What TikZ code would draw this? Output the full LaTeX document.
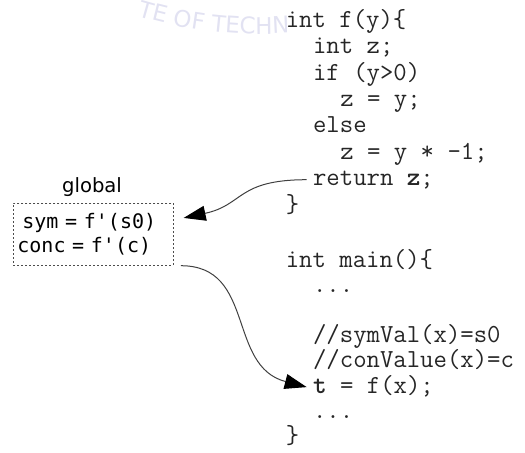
\documentclass[tikz,border=0pt]{standalone}
\usepackage{fontspec}
\usepackage{tikz}
\usetikzlibrary{arrows.meta}
\usetikzlibrary{decorations.text}
\newfontfamily\boxfont{DejaVu Sans Mono}
\newfontfamily\labelfont{DejaVu Sans}
\newcommand{\codefont}{\ttfamily\fontsize{13}{15}\selectfont}
\definecolor{wmark}{RGB}{226,226,242}

\begin{document}
\begin{tikzpicture}[x=0.5pt, y=-0.5pt,
		codeline/.style={anchor=west, font=\codefont, text=black!85, inner xsep=3pt, inner ysep=0pt, text height=9pt, text depth=3pt},
		globalbox/.style={draw=black!70, dash pattern=on 1pt off 1pt, line width=0.5pt, minimum width=80pt, minimum height=31pt, text width=76pt, inner xsep=2pt, align=left, font=\boxfont\fontsize{10}{12.2}\selectfont},
		flow/.style={draw=black!75, line width=0.5pt, -{Triangle[length=11pt, width=7.5pt, color=black]}}
	]
	\useasboundingbox (0,0) rectangle (525,452);

	\begin{scope}
		\clip (0,0) rectangle (286,60);
		\path[decorate, decoration={text along path, text color=wmark, text={|\labelfont\fontsize{11.5}{13}\selectfont|TE OF TECHNO}}] (138,16.1) .. controls (217.7,40) and (302.3,40) .. (382,16.1);
	\end{scope}

	\node[codeline] (fhead) at (279.4,21.3) {int f(y)\{};
	\node[codeline] (fdecl) at (306.7,47.7) {int z;};
	\node[codeline] (fif) at (306.7,74.1) {if (y>0)};
	\node[codeline] (fthen) at (334,100.5) {z = y;};
	\node[codeline] (felse) at (306.7,126.9) {else};
	\node[codeline] (fneg) at (334,153.3) {z = y * -1;};
	\node[codeline] (fret) at (306.7,179.7) {return \textbf{z};};
	\node[codeline] (fend) at (279.4,206.1) {\}};

	\node[codeline] (mhead) at (279.4,261.1) {int main()\{};
	\node[codeline] (mskip) at (306.7,286.3) {...};
	\node[codeline] (msym) at (306.7,336.7) {//symVal(x)=s0};
	\node[codeline] (mconc) at (306.7,361.9) {//conValue(x)=c};
	\node[codeline] (mcall) at (306.7,387.1) {\textbf{t} = f(x);};
	\node[codeline] (mrest) at (306.7,412.3) {...};
	\node[codeline] (mend) at (279.4,437.5) {\}};

	\node[font=\labelfont\fontsize{9.8}{12}\selectfont, inner sep=0pt] (globaltitle) at (92,187.5) {global};
	\node[globalbox] (globals) at (93.4,234.2) {\hspace*{2.5pt}sym = f\textquotesingle(s0)\\conc = f\textquotesingle(c)};

	\draw[flow, shorten >=5pt] (fret.west) .. controls +(-70,0) and +(70,-15) .. (globals.10);
	\draw[flow, shorten <=3.5pt] (globals.south east) .. controls +(82,0) and +(-80,-21) .. (mcall.west);
\end{tikzpicture}
\end{document}
